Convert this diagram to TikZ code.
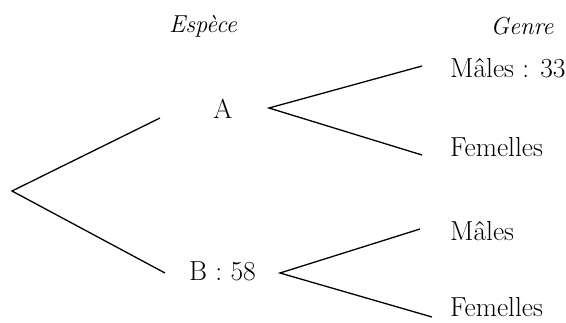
\documentclass[tikz,border=0pt]{standalone}
\usepackage{fontspec}
\begin{document}
\begin{tikzpicture}[x=1pt,y=-1pt,
  branch/.style={line width=1.3pt},
  lbl/.style={inner sep=0pt,font=\fontsize{27.5}{32}\selectfont},
  head/.style={inner sep=0pt,font=\fontsize{24.5}{29}\selectfont\itshape}]
\useasboundingbox (0,0) rectangle (566,322);
% headers
\node[head,anchor=base] (espece) at (203,32) {Espèce};
\node[head,anchor=base] (genre) at (522,34) {Genre};
% labels
\node[lbl,anchor=base] (A) at (223,118) {A};
\node[lbl,anchor=base] (B) at (222.5,280) {B : 58};
\node[lbl,anchor=base west] (AM) at (450,77) {Mâles : 33};
\node[lbl,anchor=base west] (AF) at (450,156) {Femelles};
\node[lbl,anchor=base west] (BM) at (450,240) {Mâles};
\node[lbl,anchor=base west] (BF) at (450,316) {Femelles};
% branch points
\coordinate (root) at (12,191);
\coordinate (Ain) at (160,118);
\coordinate (Bin) at (165,273);
\coordinate (Aout) at (269,108);
\coordinate (Bout) at (280,273);
\coordinate (AMin) at (422,66);
\coordinate (AFin) at (422,155);
\coordinate (BMin) at (420,229);
\coordinate (BFin) at (432,317);
% connectors
\draw[branch] (Ain) -- (root) -- (Bin);
\draw[branch] (AMin) -- (Aout) -- (AFin);
\draw[branch] (BMin) -- (Bout) -- (BFin);
\end{tikzpicture}
\end{document}
